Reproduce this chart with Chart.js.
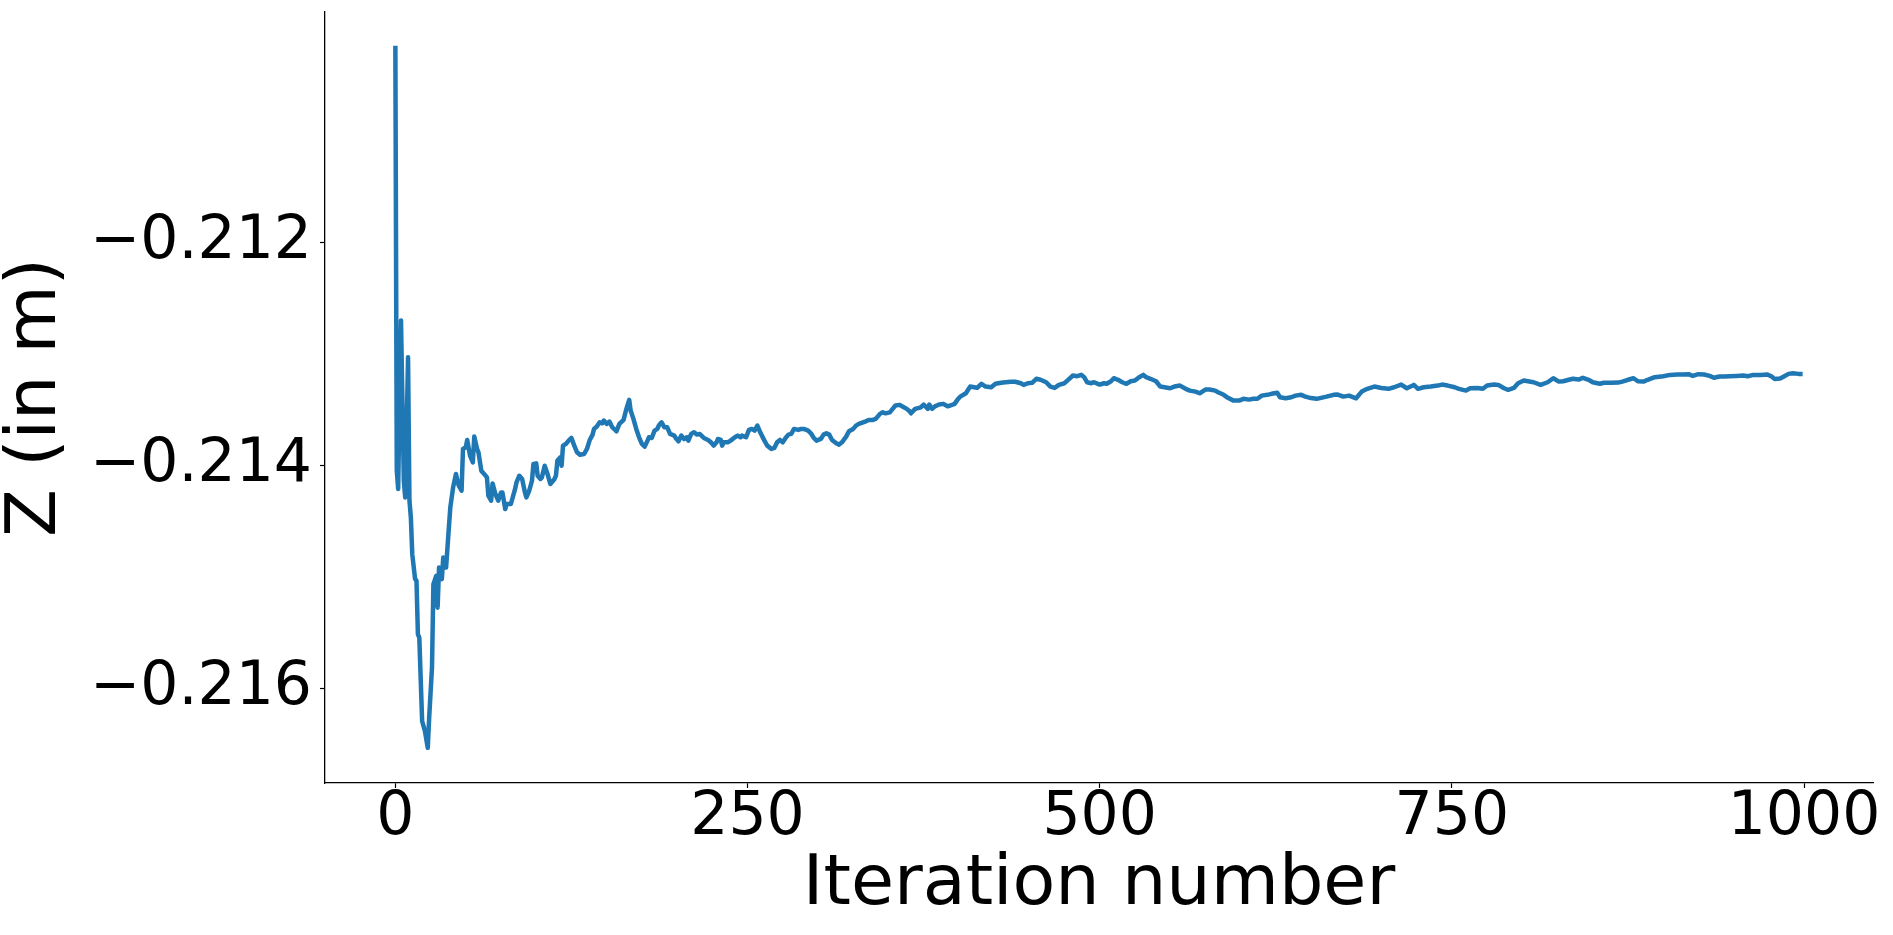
<!DOCTYPE html>
<html>
<head>
<meta charset="utf-8">
<script src="https://cdn.jsdelivr.net/npm/chart.js@4.4.1/dist/chart.umd.min.js"></script>
<style>
    html, body { margin: 0; padding: 0; background: #fff; }
    #wrap { width: 1893px; height: 935px; position: relative; }
</style>
</head>
<body>
<div id="wrap"><canvas id="z-chart"></canvas></div>
<script>
// iteration numbers where the curve was read
const iterations = [
    0, 1, 2, 3, 4, 5, 6, 7, 8, 9, 10, 11, 12, 14, 15, 16, 17, 19, 21, 23, 24, 26, 27, 29, 30, 31, 33, 34, 36, 37, 39,
    41, 43, 45, 47, 48, 50, 51, 53, 55, 56, 58, 59, 61, 63, 65, 66, 68, 69, 71, 73, 75, 76, 78, 79, 82, 85, 86, 88, 90,
    92, 93, 95, 97, 98, 100, 101, 103, 104, 106, 108, 110, 113, 114, 115, 117, 118, 119, 121, 123, 125, 127, 129, 131,
    134, 136, 138, 140, 141, 143, 145, 147, 148, 150, 152, 154, 156, 157, 159, 162, 164, 166, 167, 169, 171, 173, 175,
    177, 179, 180, 182, 184, 186, 187, 189, 191, 193, 195, 198, 199, 201, 203, 205, 207, 208, 210, 212, 214, 216, 218,
    219, 222, 224, 226, 228, 229, 231, 232, 233, 236, 238, 241, 243, 245, 246, 249, 251, 253, 255, 257, 259, 262, 264,
    267, 269, 271, 273, 275, 277, 279, 281, 283, 286, 288, 290, 293, 295, 297, 299, 302, 304, 306, 308, 310, 313, 315,
    317, 320, 322, 325, 327, 329, 332, 334, 336, 339, 341, 344, 346, 348, 351, 353, 355, 358, 360, 363, 365, 366, 369,
    373, 375, 378, 379, 381, 383, 386, 389, 392, 394, 397, 399, 401, 405, 408, 411, 413, 416, 419, 423, 426, 430, 433,
    437, 440, 444, 446, 449, 452, 455, 458, 462, 465, 468, 471, 475, 477, 481, 484, 487, 489, 491, 494, 496, 500, 503,
    505, 508, 510, 513, 516, 519, 522, 525, 528, 531, 533, 536, 540, 543, 546, 550, 553, 557, 561, 564, 568, 571, 575,
    578, 582, 584, 588, 591, 595, 599, 602, 606, 609, 612, 615, 619, 622, 626, 628, 632, 636, 639, 643, 646, 650, 654,
    661, 666, 669, 673, 677, 682, 686, 690, 695, 700, 705, 709, 714, 718, 723, 726, 730, 735, 740, 743, 747, 752, 755,
    760, 763, 768, 772, 775, 780, 783, 787, 790, 794, 797, 801, 804, 808, 813, 818, 822, 826, 829, 833, 836, 840, 843,
    847, 850, 855, 858, 863, 868, 871, 875, 879, 882, 886, 889, 894, 900, 905, 910, 914, 918, 921, 925, 929, 933, 936,
    940, 944, 947, 952, 957, 960, 964, 969, 974, 977, 979, 983, 986, 989, 992, 996, 999
];

// Z position (m) at each iteration above
const zValues = [
    -0.210233, -0.214047, -0.214211, -0.213418, -0.212698, -0.213418, -0.214137, -0.214287, -0.213687, -0.213028,
    -0.214316, -0.214467, -0.214796, -0.215018, -0.215036, -0.215515, -0.215545, -0.216294, -0.216384, -0.216534,
    -0.216264, -0.215815, -0.215065, -0.214991, -0.215276, -0.214916, -0.215020, -0.214826, -0.214916, -0.214736,
    -0.214377, -0.214197, -0.214076, -0.214182, -0.214227, -0.213852, -0.213837, -0.213771, -0.213912, -0.213972,
    -0.213741, -0.213852, -0.213882, -0.214047, -0.214076, -0.214107, -0.214271, -0.214316, -0.214161, -0.214256,
    -0.214316, -0.214242, -0.214242, -0.214391, -0.214346, -0.214346, -0.214211, -0.214152, -0.214092, -0.214121,
    -0.214242, -0.214287, -0.214227, -0.214137, -0.213987, -0.213981, -0.214092, -0.214121, -0.214107, -0.214002,
    -0.214076, -0.214166, -0.214121, -0.214092, -0.213957, -0.213927, -0.214002, -0.213822, -0.213807, -0.213777,
    -0.213753, -0.213822, -0.213882, -0.213903, -0.213897, -0.213852, -0.213771, -0.213723, -0.213672, -0.213651,
    -0.213613, -0.213621, -0.213597, -0.213627, -0.213606, -0.213658, -0.213681, -0.213693, -0.213627, -0.213591,
    -0.213492, -0.213411, -0.213507, -0.213582, -0.213672, -0.213747, -0.213807, -0.213831, -0.213777, -0.213747,
    -0.213753, -0.213687, -0.213672, -0.213642, -0.213613, -0.213658, -0.213658, -0.213717, -0.213732, -0.213753,
    -0.213783, -0.213732, -0.213762, -0.213747, -0.213777, -0.213717, -0.213702, -0.213723, -0.213717, -0.213741,
    -0.213753, -0.213771, -0.213792, -0.213822, -0.213792, -0.213762, -0.213771, -0.213822, -0.213792, -0.213792,
    -0.213777, -0.213747, -0.213732, -0.213747, -0.213732, -0.213747, -0.213681, -0.213672, -0.213687, -0.213642,
    -0.213702, -0.213777, -0.213822, -0.213852, -0.213843, -0.213792, -0.213771, -0.213792, -0.213753, -0.213723,
    -0.213717, -0.213672, -0.213681, -0.213672, -0.213672, -0.213687, -0.213711, -0.213753, -0.213777, -0.213762,
    -0.213723, -0.213711, -0.213723, -0.213771, -0.213801, -0.213813, -0.213792, -0.213741, -0.213693, -0.213672,
    -0.213642, -0.213627, -0.213613, -0.213604, -0.213591, -0.213591, -0.213582, -0.213537, -0.213523, -0.213532,
    -0.213523, -0.213492, -0.213462, -0.213456, -0.213471, -0.213492, -0.213514, -0.213532, -0.213492, -0.213478,
    -0.213453, -0.213492, -0.213453, -0.213492, -0.213469, -0.213453, -0.213447, -0.213469, -0.213462, -0.213447,
    -0.213411, -0.213382, -0.213352, -0.213292, -0.213298, -0.213304, -0.213267, -0.213292, -0.213298, -0.213267,
    -0.213258, -0.213253, -0.213249, -0.213249, -0.213262, -0.213277, -0.213262, -0.213258, -0.213222, -0.213231,
    -0.213253, -0.213292, -0.213304, -0.213277, -0.213262, -0.213238, -0.213193, -0.213199, -0.213187, -0.213208,
    -0.213253, -0.213262, -0.213253, -0.213274, -0.213262, -0.213267, -0.213244, -0.213217, -0.213231, -0.213253,
    -0.213267, -0.213244, -0.213238, -0.213208, -0.213187, -0.213208, -0.213222, -0.213244, -0.213292, -0.213298,
    -0.213307, -0.213292, -0.213283, -0.213312, -0.213328, -0.213337, -0.213352, -0.213319, -0.213319, -0.213328,
    -0.213343, -0.213366, -0.213393, -0.213418, -0.213418, -0.213402, -0.213409, -0.213402, -0.213402, -0.213373,
    -0.213366, -0.213357, -0.213348, -0.213388, -0.213397, -0.213388, -0.213373, -0.213366, -0.213382, -0.213395,
    -0.213402, -0.213382, -0.213366, -0.213364, -0.213382, -0.213373, -0.213397, -0.213337, -0.213312, -0.213292,
    -0.213304, -0.213312, -0.213298, -0.213274, -0.213307, -0.213277, -0.213312, -0.213298, -0.213292, -0.213283,
    -0.213274, -0.213283, -0.213298, -0.213312, -0.213328, -0.213307, -0.213304, -0.213312, -0.213283, -0.213274,
    -0.213277, -0.213307, -0.213321, -0.213304, -0.213262, -0.213238, -0.213244, -0.213253, -0.213277, -0.213253,
    -0.213217, -0.213247, -0.213244, -0.213231, -0.213222, -0.213229, -0.213213, -0.213231, -0.213253, -0.213267,
    -0.213258, -0.213258, -0.213256, -0.213247, -0.213231, -0.213217, -0.213244, -0.213247, -0.213231, -0.213208,
    -0.213199, -0.213187, -0.213184, -0.213184, -0.213181, -0.213196, -0.213181, -0.213184, -0.213196, -0.213213,
    -0.213202, -0.213202, -0.213199, -0.213196, -0.213193, -0.213199, -0.213187, -0.213187, -0.213184, -0.213202,
    -0.213223, -0.213220, -0.213199, -0.213178, -0.213173, -0.213178, -0.213178
];

const xTicks = [0, 250, 500, 750, 1000];
const yTicks = [-0.216, -0.214, -0.212];

const points = iterations.map((it, i) => ({ x: it, y: zValues[i] }));

const tickFont = { family: 'DejaVu Sans', size: 60, lineHeight: 1 };
const titleFont = { family: 'DejaVu Sans', size: 70, lineHeight: 1 };

new Chart(document.getElementById('z-chart'), {
    type: 'line',
    data: {
        datasets: [
            {
                data: points,
                borderColor: '#1f77b4',
                borderWidth: 4.5,
                pointRadius: 0,
                tension: 0,
                fill: false,
                borderJoinStyle: 'round',
            }
        ],
    },
    options: {
        responsive: true,
        maintainAspectRatio: false,
        animation: false,
        layout: { padding: { left: 0, top: 12, right: 20, bottom: 0 } },
        plugins: {
            legend: { display: false },
            tooltip: { enabled: false },
        },
        scales: {
            x: {
                type: 'linear',
                min: -49.95,
                max: 1048.95,
                afterBuildTicks: (scale) => { scale.ticks = xTicks.map(v => ({ value: v })); },
                afterFit: (scale) => {
                    scale.height = 152;
                    scale.paddingLeft = 0;
                    scale.paddingRight = 0;
                },
                ticks: {
                    font: tickFont,
                    color: '#000',
                    padding: 0,
                    maxRotation: 0,
                    autoSkip: false,
                    callback: (v) => String(v),
                },
                grid: { drawOnChartArea: false, drawTicks: true, tickLength: 5, tickColor: '#000', tickWidth: 1.2 },
                border: { display: true, color: '#000', width: 1.3 },
                title: {
                    display: true,
                    text: 'Iteration number',
                    color: '#000',
                    font: { family: 'DejaVu Sans', size: 70, lineHeight: 1.2 },
                    padding: { top: 0, bottom: 7 },
                },
            },
            y: {
                type: 'linear',
                min: -0.21685,
                max: -0.20993,
                afterBuildTicks: (scale) => { scale.ticks = yTicks.map(v => ({ value: v })); },
                afterFit: (scale) => {
                    scale.width = 325;
                    scale.paddingTop = 0;
                    scale.paddingBottom = 0;
                },
                ticks: {
                    font: tickFont,
                    color: '#000',
                    padding: 8,
                    autoSkip: false,
                    callback: (v) => '\u2212' + Math.abs(v).toFixed(3),
                },
                grid: { drawOnChartArea: false, drawTicks: true, tickLength: 5, tickColor: '#000', tickWidth: 1.2 },
                border: { display: true, color: '#000', width: 1.3 },
                title: {
                    display: true,
                    text: 'Z (in m)',
                    color: '#000',
                    font: titleFont,
                    padding: { top: 2, bottom: 0 },
                },
            },
        },
    },
});
</script>
</body>
</html>
